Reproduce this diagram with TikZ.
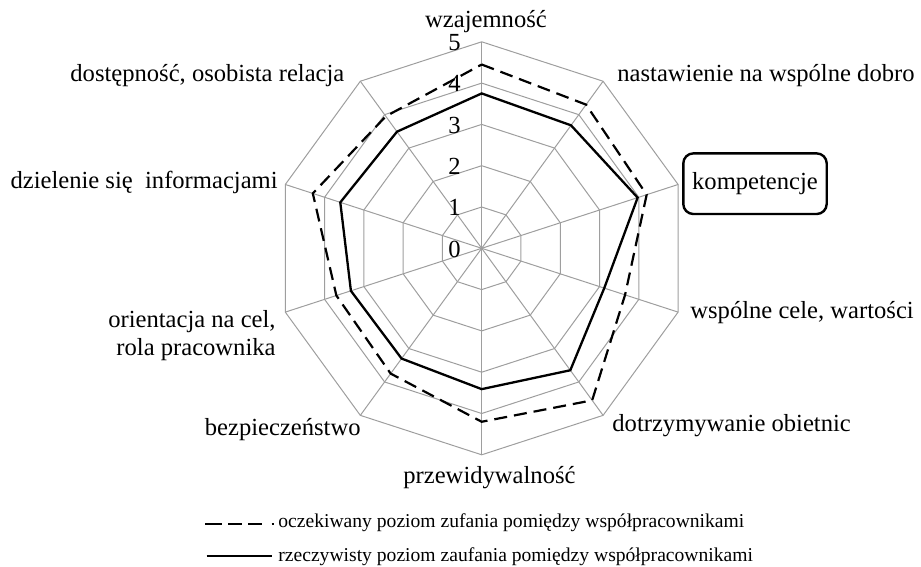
\documentclass[tikz,border=0pt]{standalone}
\usepackage{fontspec}
\setmainfont{Liberation Serif}
\usetikzlibrary{calc}

\begin{document}
\begin{tikzpicture}[x=0.5pt, y=0.5pt,
  grid/.style={draw=black!38, line width=0.5pt},
  oczek/.style={line width=1.1pt, dash pattern=on 6.5pt off 3.5pt, line join=miter},
  rzecz/.style={line width=1.15pt, line join=miter},
  lbl/.style={font=\fontsize{12.3}{14.2}\selectfont, inner sep=0pt},
  num/.style={font=\fontsize{12.3}{14.2}\selectfont, inner sep=0pt, anchor=base east},
  leg/.style={font=\fontsize{9.8}{12}\selectfont, inner sep=0pt, anchor=base west}]
  \useasboundingbox (0,0) rectangle (921,-567);
  % środek wykresu
  \coordinate (O) at (481.7,-248.3);

  \begin{scope}[shift={(O)}, x=20.65pt, y=20.65pt]
    % siatka: 5 poziomów, 10 osi
    \foreach \r in {1,...,5}
      \draw[grid] (90:\r) \foreach \a in {54,18,...,-234} { -- (\a:\r) } -- cycle;
    \foreach \a in {90,54,...,-234}
      \draw[grid] (0,0) -- (\a:5);
    % oczekiwany poziom
    \coordinate (e0) at (90:4.45);
    \coordinate (e1) at (54:4.3);
    \coordinate (e2) at (18:4.2);
    \coordinate (e3) at (-18:3.65);
    \coordinate (e4) at (-54:4.55);
    \coordinate (e5) at (-90:4.2);
    \coordinate (e6) at (-126:3.75);
    \coordinate (e7) at (-162:3.7);
    \coordinate (e8) at (162:4.3);
    \coordinate (e9) at (126:3.95);
    % rzeczywisty poziom
    \coordinate (r0) at (90:3.75);
    \coordinate (r1) at (54:3.68);
    \coordinate (r2) at (18:3.97);
    \coordinate (r3) at (-18:3.12);
    \coordinate (r4) at (-54:3.65);
    \coordinate (r5) at (-90:3.41);
    \coordinate (r6) at (-126:3.3);
    \coordinate (r7) at (-162:3.33);
    \coordinate (r8) at (162:3.6);
    \coordinate (r9) at (126:3.49);
  \end{scope}

  \draw[oczek] (e0) -- (e1) -- (e2) -- (e3) -- (e4) -- (e5) -- (e6) -- (e7) -- (e8) -- (e9) -- cycle;
  \draw[rzecz] (r0) -- (r1) -- (r2) -- (r3) -- (r4) -- (r5) -- (r6) -- (r7) -- (r8) -- (r9) -- cycle;

  % skala
  \foreach \k in {0,...,5}
    \node[num] (n\k) at (461,-257+41.3*\k) {\k};

  % etykiety osi
  \node[lbl, anchor=base] (wzaj) at (486,-28) {wzajemność};
  \node[lbl, anchor=base west] (nast) at (617,-81.7) {nastawienie na wspólne dobro};
  \node[lbl, draw, line width=1.2pt, rounded corners=5pt,
        minimum width=71.7pt, minimum height=30.3pt] (komp) at (755,-183.7) {kompetencje};
  \node[lbl, anchor=base west] (cele) at (690,-318) {wspólne cele, wartości};
  \node[lbl, anchor=base west] (obiet) at (612,-431) {dotrzymywanie obietnic};
  \node[lbl, anchor=base west] (przew) at (403,-483) {przewidywalność};
  \node[lbl, anchor=base east] (bezp) at (361,-435) {bezpieczeństwo};
  \node[lbl, anchor=east, align=right] (orient) at (276,-335.5) {orientacja na cel,\\rola pracownika};
  \node[lbl, anchor=base east] (dziel) at (278,-188.3) {dzielenie się\ \ informacjami};
  \node[lbl, anchor=base west] (dost) at (70,-81.7) {dostępność, osobista relacja};

  % legenda
  \coordinate (l1a) at (205,-524);
  \coordinate (l1b) at (274,-524);
  \coordinate (l2a) at (206.5,-556);
  \coordinate (l2b) at (271.7,-556);
  \draw[line width=1.1pt, dash pattern=on 8.35pt off 3.15pt on 6.85pt off 3.15pt on 7pt off 4.75pt on 1pt off 20pt] (l1a) -- (l1b);
  \draw[rzecz] (l2a) -- (l2b);
  \node[leg] (leg1) at (278,-527) {oczekiwany poziom zufania pomiędzy współpracownikami};
  \node[leg] (leg2) at (278,-561.7) {rzeczywisty poziom zaufania pomiędzy współpracownikami};
\end{tikzpicture}
\end{document}
